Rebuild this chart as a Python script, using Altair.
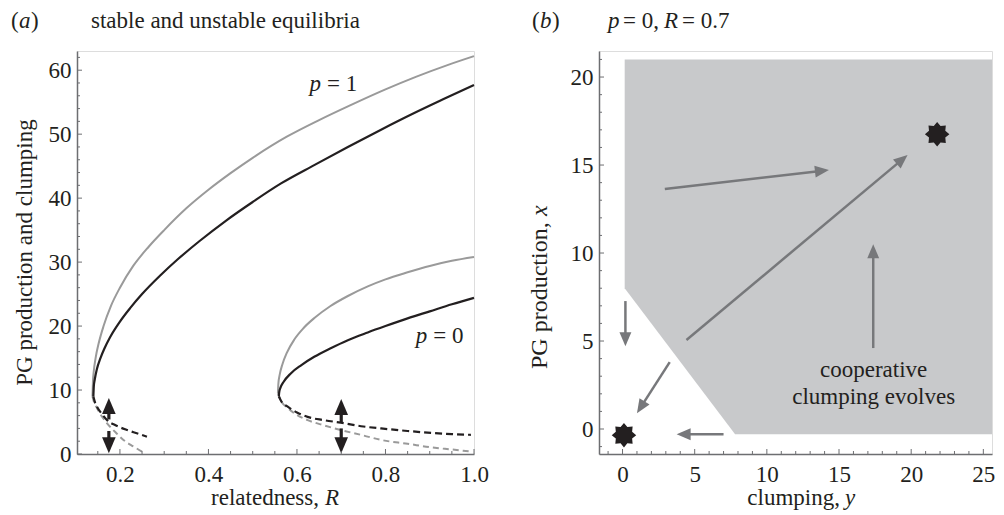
import math
import altair as alt
import pandas as pd

FONT = "Liberation Serif"
INK = "#231f20"
GREY = "#9a9a9a"
AXIS_C = "#6d6e71"
ARROW_B = "#77787b"
FILL = "#c8c9cb"
FS = 23

# ---------------- panel (a): equilibria vs relatedness R ----------------
p1_grey_up_R = [0.138, 0.139, 0.141, 0.145, 0.152, 0.163, 0.180, 0.200, 0.230, 0.265, 0.300, 0.350, 0.400, 0.450, 0.500, 0.577, 0.650, 0.720, 0.800, 0.870, 0.940, 1.000]
p1_grey_up_v = [9.0, 11.3, 13.0, 15.0, 17.3, 20.0, 23.2, 26.0, 29.4, 32.4, 35.0, 38.4, 41.3, 43.9, 46.3, 49.6, 52.2, 54.5, 57.0, 59.0, 60.8, 62.2]
p1_black_up_R = [0.140, 0.141, 0.143, 0.148, 0.156, 0.165, 0.178, 0.200, 0.223, 0.250, 0.291, 0.330, 0.380, 0.440, 0.500, 0.564, 0.640, 0.715, 0.790, 0.865, 0.935, 1.000]
p1_black_up_v = [9.0, 10.6, 11.6, 13.3, 15.0, 16.5, 18.3, 20.7, 22.8, 25.0, 27.9, 30.4, 33.3, 36.5, 39.4, 42.3, 45.2, 48.0, 50.7, 53.3, 55.6, 57.7]
p1_black_dn_R = [0.140, 0.144, 0.148, 0.160, 0.171, 0.190, 0.216, 0.240, 0.261]
p1_black_dn_v = [9.0, 8.0, 7.4, 6.2, 5.3, 4.5, 3.75, 3.2, 2.7]
p1_grey_dn_R = [0.138, 0.142, 0.148, 0.160, 0.171, 0.190, 0.208, 0.230, 0.257]
p1_grey_dn_v = [9.0, 8.0, 7.2, 5.8, 4.8, 3.4, 2.2, 1.2, 0.1]

p0_grey_up_R = [0.557, 0.558, 0.561, 0.567, 0.577, 0.594, 0.615, 0.640, 0.675, 0.715, 0.760, 0.800, 0.850, 0.900, 0.950, 1.000]
p0_grey_up_v = [9.5, 11.0, 12.4, 14.0, 15.8, 17.9, 19.7, 21.3, 23.1, 24.7, 26.2, 27.3, 28.4, 29.4, 30.2, 30.8]
p0_black_up_R = [0.559, 0.560, 0.563, 0.570, 0.586, 0.610, 0.639, 0.675, 0.715, 0.760, 0.800, 0.850, 0.900, 0.950, 1.000]
p0_black_up_v = [9.0, 9.7, 10.4, 11.3, 12.6, 13.9, 15.2, 16.5, 17.8, 19.0, 20.0, 21.2, 22.3, 23.4, 24.4]
p0_black_dn_R = [0.559, 0.565, 0.579, 0.600, 0.624, 0.660, 0.699, 0.750, 0.790, 0.850, 0.903, 0.950, 0.993]
p0_black_dn_v = [9.0, 8.2, 7.4, 6.5, 5.8, 5.3, 4.9, 4.3, 4.0, 3.6, 3.3, 3.1, 3.0]
p0_grey_dn_R = [0.557, 0.565, 0.579, 0.600, 0.624, 0.660, 0.699, 0.750, 0.790, 0.850, 0.903, 0.950, 0.997]
p0_grey_dn_v = [9.5, 8.2, 7.2, 6.1, 5.3, 4.5, 3.75, 2.9, 2.2, 1.6, 1.04, 0.7, 0.36]

# double arrows in (a): R, start, tip
arrA_R = [0.175, 0.175, 0.70, 0.70]
arrA_from = [5.4, 3.6, 4.9, 4.0]
arrA_to = [8.75, 0.1, 8.6, 0.1]

a_xticks = [0.2, 0.4, 0.6, 0.8, 1.0]
a_yticks = [0, 10, 20, 30, 40, 50, 60]
a_xminor = [0.15, 0.25, 0.3, 0.35, 0.45, 0.5, 0.55, 0.65, 0.7, 0.75, 0.85, 0.9, 0.95]
a_yminor = [2, 4, 6, 8, 12, 14, 16, 18, 22, 24, 26, 28, 32, 34, 36, 38, 42, 44, 46, 48, 52, 54, 56, 58, 62]

# ---------------- panel (b): phase plane at p = 0, R = 0.7 ----------------
region_y = [0.15, 7.8, 26.0]        # clumping
region_lo = [8.0, -0.3, -0.3]       # lower boundary of the grey region
region_hi = [21.0, 21.0, 21.0]

star_y = [0.1, 21.8]
star_x = [-0.35, 16.75]

arrB_y1 = [2.93, 4.43, 17.37, 0.2, 3.27, 7.0]
arrB_x1 = [13.64, 5.06, 4.6, 7.27, 3.8, -0.3]
arrB_y2 = [14.3, 19.75, 17.37, 0.2, 1.0, 3.75]
arrB_x2 = [14.72, 15.57, 10.5, 4.7, 0.9, -0.3]

b_xticks = [0, 5, 10, 15, 20, 25]
b_yticks = [0, 5, 10, 15, 20]
b_xminor = [v for v in range(-1, 26) if v % 5 != 0]
b_yminor = [v for v in range(-1, 22) if v % 5 != 0]

# ---------------- geometry ----------------
A_W, A_H = 397, 403
A_XD = [0.103, 1.0]
A_YD = [0, 63]
B_W, B_H = 393, 403
B_XD = [-1.63, 25.6]
B_YD = [-1.42, 21.48]
sxA = A_W / (A_XD[1] - A_XD[0]); syA = A_H / (A_YD[1] - A_YD[0])
sxB = B_W / (B_XD[1] - B_XD[0]); syB = B_H / (B_YD[1] - B_YD[0])

HEAD = "M0,0L-0.85,2L0.85,2Z"
HEAD_A = 256   # 16 px long
HEAD_B = 196   # 14 px long
star_pts = []
for k in range(16):
    ang = math.radians(k * 22.5)
    r = 1.0 if k % 2 == 0 else 0.72
    star_pts.append(f"{r*math.sin(ang):.3f},{-r*math.cos(ang):.3f}")
STAR = "M" + "L".join(star_pts) + "Z"

ax_common = dict(labelFont=FONT, labelFontSize=FS, labelColor=INK, domainColor=AXIS_C,
                 domainWidth=1.5, ticks=False, grid=False, title=None, labelFlush=False)

axAx = alt.Axis(values=a_xticks, format=".1f", labelPadding=9, **ax_common)
axAy = alt.Axis(values=a_yticks, format="d", labelPadding=6, **ax_common)
axBx = alt.Axis(values=b_xticks, format="d", labelPadding=9, **ax_common)
axBy = alt.Axis(values=b_yticks, format="d", labelPadding=6, **ax_common)


def XA(f):
    return alt.X(f, type="quantitative", scale=alt.Scale(domain=A_XD, nice=False, zero=False), axis=axAx)


def YA(f):
    return alt.Y(f, type="quantitative", scale=alt.Scale(domain=A_YD, nice=False, zero=False), axis=axAy)


def XB(f):
    return alt.X(f, type="quantitative", scale=alt.Scale(domain=B_XD, nice=False, zero=False), axis=axBx)


def YB(f):
    return alt.Y(f, type="quantitative", scale=alt.Scale(domain=B_YD, nice=False, zero=False), axis=axBy)


def curves(pairs):
    rows = []
    for name, Rs, vs in pairs:
        for i, (r, v) in enumerate(zip(Rs, vs)):
            rows.append({"curve": name, "R": r, "v": v, "i": i})
    return pd.DataFrame(rows)


def line_layer(df, color, dash=None, width=2.0):
    kw = dict(color=color, strokeWidth=width, strokeCap="butt", interpolate="monotone")
    if dash:
        kw["strokeDash"] = dash
    return alt.Chart(df).mark_line(**kw).encode(
        x=XA("R"), y=YA("v"), detail="curve:N", order="i:Q")


def text_px(items, angle=None, size=FS):
    layers = []
    for t, x, y, style, align in items:
        kw = dict(font=FONT, fontSize=size, color=INK, align=align, baseline="alphabetic")
        if style:
            kw["fontStyle"] = style
        if angle is not None:
            kw["angle"] = angle
            kw["baseline"] = "middle"
        layers.append(alt.Chart(pd.DataFrame({"t": [t]})).mark_text(**kw).encode(
            x=alt.value(x), y=alt.value(y), text="t:N"))
    return layers


# ----- panel (a) layers -----
grey_up = curves([("p1", p1_grey_up_R, p1_grey_up_v), ("p0", p0_grey_up_R, p0_grey_up_v)])
grey_dn = curves([("p1", p1_grey_dn_R, p1_grey_dn_v), ("p0", p0_grey_dn_R, p0_grey_dn_v)])
black_up = curves([("p1", p1_black_up_R, p1_black_up_v), ("p0", p0_black_up_R, p0_black_up_v)])
black_dn = curves([("p1", p1_black_dn_R, p1_black_dn_v), ("p0", p0_black_dn_R, p0_black_dn_v)])

arrA = pd.DataFrame({"R": arrA_R, "s": arrA_from, "t": arrA_to})
arrA["e"] = [t - 7 / syA if t > s else t + 7 / syA for s, t in zip(arrA_from, arrA_to)]
arrA["ang"] = [0 if t > s else 180 for s, t in zip(arrA_from, arrA_to)]

shaftA = alt.Chart(arrA).mark_rule(color=INK, strokeWidth=3.2).encode(x=XA("R"), y=YA("s"), y2="e:Q")
headA = alt.Chart(arrA).mark_point(shape=HEAD, filled=True, opacity=1, size=HEAD_A, color=INK,
                                   strokeWidth=0).encode(
    x=XA("R"), y=YA("t"), angle=alt.Angle("ang:Q", scale=None))

plab = pd.DataFrame({"R": [0.661, 0.901], "v": [56.7, 17.4], "n": ["= 1", "= 0"], "p": ["p", "p"]})
plab_p = alt.Chart(plab).mark_text(font=FONT, fontSize=FS, color=INK, fontStyle="italic", align="right",
                                   baseline="alphabetic", dx=-3).encode(x=XA("R"), y=YA("v"), text="p:N")
plab_n = alt.Chart(plab).mark_text(font=FONT, fontSize=FS, color=INK, align="left",
                                   baseline="alphabetic", dx=3).encode(x=XA("R"), y=YA("v"), text="n:N")

tickAx = alt.Chart(pd.DataFrame({"x": a_xticks})).mark_rule(color=AXIS_C, strokeWidth=1).encode(
    x=XA("x"), y=alt.value(A_H), y2=alt.value(A_H - 5))
tickAxm = alt.Chart(pd.DataFrame({"x": a_xminor})).mark_rule(color=AXIS_C, strokeWidth=1).encode(
    x=XA("x"), y=alt.value(A_H), y2=alt.value(A_H - 3))
tickAy = alt.Chart(pd.DataFrame({"y": a_yticks})).mark_rule(color=AXIS_C, strokeWidth=1).encode(
    y=YA("y"), x=alt.value(0), x2=alt.value(5))
tickAym = alt.Chart(pd.DataFrame({"y": a_yminor})).mark_rule(color=AXIS_C, strokeWidth=1).encode(
    y=YA("y"), x=alt.value(0), x2=alt.value(3))

textsA = text_px([
    ("(", -66, -23, None, "left"),
    ("a", -58, -23, "italic", "left"),
    (")", -46, -23, None, "left"),
    ("stable and unstable equilibria", 14, -23, None, "left"),
    ("relatedness,", 242, A_H + 51, None, "right"),
    ("R", 248, A_H + 51, "italic", "left"),
])
ytitleA = text_px([("PG production and clumping", -52, A_H / 2, None, "center")], angle=270)

panelA = alt.layer(
    line_layer(grey_up, GREY, width=2.0),
    line_layer(grey_dn, GREY, dash=[6, 4], width=2.0),
    line_layer(black_up, INK, width=2.2),
    line_layer(black_dn, INK, dash=[7, 4], width=2.2),
    shaftA, headA, plab_p, plab_n,
    tickAx, tickAxm, tickAy, tickAym,
    *textsA, *ytitleA,
).properties(width=A_W, height=A_H)

# ----- panel (b) layers -----
region = pd.DataFrame({"cy": region_y, "lo": region_lo, "hi": region_hi})
area = alt.Chart(region).mark_area(color=FILL, clip=True, opacity=1).encode(
    x=XB("cy"), y=YB("lo"), y2="hi:Q")

arrB = pd.DataFrame({"x1": arrB_y1, "y1": arrB_x1, "x2": arrB_y2, "y2": arrB_x2})
angs, ex, ey = [], [], []
for x1, y1, x2, y2 in zip(arrB_y1, arrB_x1, arrB_y2, arrB_x2):
    dxp = (x2 - x1) * sxB
    dyp = (y2 - y1) * syB
    L = math.hypot(dxp, dyp)
    ex.append(x2 - dxp / L * 6 / sxB)
    ey.append(y2 - dyp / L * 6 / syB)
    angs.append(math.degrees(math.atan2(dxp, dyp)) % 360)
arrB["ex"] = ex
arrB["ey"] = ey
arrB["ang"] = angs

shaftB = alt.Chart(arrB).mark_rule(color=ARROW_B, strokeWidth=2.5).encode(
    x=XB("x1"), y=YB("y1"), x2="ex:Q", y2="ey:Q")
headB = alt.Chart(arrB).mark_point(shape=HEAD, filled=True, opacity=1, size=HEAD_B, color=ARROW_B,
                                   strokeWidth=0).encode(
    x=XB("x2"), y=YB("y2"), angle=alt.Angle("ang:Q", scale=None))

stars = alt.Chart(pd.DataFrame({"cy": star_y, "px": star_x})).mark_point(
    shape=STAR, filled=True, opacity=1, size=600, color=INK, strokeWidth=0).encode(x=XB("cy"), y=YB("px"))

note = alt.Chart(pd.DataFrame({"cy": [17.4, 17.4], "px": [2.95, 1.4],
                               "t": ["cooperative", "clumping evolves"]})).mark_text(
    font=FONT, fontSize=FS, color=INK, align="center", baseline="alphabetic").encode(
    x=XB("cy"), y=YB("px"), text="t:N")

tickBx = alt.Chart(pd.DataFrame({"x": b_xticks})).mark_rule(color=AXIS_C, strokeWidth=1).encode(
    x=XB("x"), y=alt.value(B_H), y2=alt.value(B_H - 5))
tickBxm = alt.Chart(pd.DataFrame({"x": b_xminor})).mark_rule(color=AXIS_C, strokeWidth=1).encode(
    x=XB("x"), y=alt.value(B_H), y2=alt.value(B_H - 3))
tickBy = alt.Chart(pd.DataFrame({"y": b_yticks})).mark_rule(color=AXIS_C, strokeWidth=1).encode(
    y=YB("y"), x=alt.value(0), x2=alt.value(5))
tickBym = alt.Chart(pd.DataFrame({"y": b_yminor})).mark_rule(color=AXIS_C, strokeWidth=1).encode(
    y=YB("y"), x=alt.value(0), x2=alt.value(3))

textsB = text_px([
    ("(", -67, -23, None, "left"),
    ("b", -59, -23, "italic", "left"),
    (")", -47, -23, None, "left"),
    ("p", 9, -23, "italic", "left"),
    ("= 0,", 24, -23, None, "left"),
    ("R", 65, -23, "italic", "left"),
    ("= 0.7", 83, -23, None, "left"),
    ("clumping,", 241, B_H + 51, None, "right"),
    ("y", 246, B_H + 51, "italic", "left"),
])
ytitleB = text_px([
    ("PG production,", -59, 318, None, "left"),
    ("x", -59, 165, "italic", "left"),
], angle=270, size=24)

panelB = alt.layer(
    area, shaftB, headB, stars, note,
    tickBx, tickBxm, tickBy, tickBym,
    *textsB, *ytitleB,
).properties(width=B_W, height=B_H)

chart = alt.hconcat(panelA, panelB, spacing=38).properties(
    padding={"left": 2, "top": 1, "right": 0, "bottom": 0}
).configure_view(stroke=None).configure(font=FONT)

chart.save("out.html", embed_options={"renderer": "svg", "actions": False})
